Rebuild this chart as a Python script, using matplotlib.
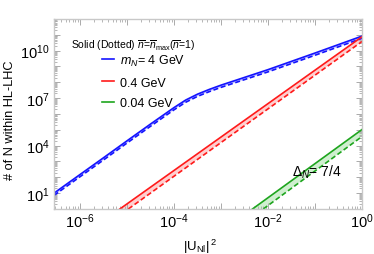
import numpy as np
import matplotlib
matplotlib.use('Agg')
from matplotlib import pyplot as plt
from matplotlib import ticker as mticker

plt.rcParams['font.family'] = ['Liberation Sans', 'DejaVu Sans']
plt.rcParams['mathtext.fontset'] = 'custom'
plt.rcParams['mathtext.rm'] = 'Liberation Sans'
plt.rcParams['mathtext.it'] = 'Liberation Sans:italic'
plt.rcParams['mathtext.bf'] = 'Liberation Sans:bold'

# exponents (log10 of |U|^2 and of the count)
blue_x = [-6.55, -6.0, -5.5, -5.0, -4.5, -4.0, -3.75, -3.5, -3.25, -3.0, -2.5, -2.0, -1.0, 0.0]
blue_solid = [1.00, 2.17, 3.23, 4.30, 5.36, 6.40, 6.88, 7.25, 7.55, 7.82, 8.31, 8.80, 9.85, 10.92]
blue_dash = [0.86, 2.03, 3.09, 4.16, 5.22, 6.26, 6.74, 7.11, 7.41, 7.68, 8.17, 8.66, 9.71, 10.78]

red_x = [-5.15, 0.0]
red_solid = [0.0, 10.88]
red_dash_x = [-4.97, 0.0]
red_dash = [0.0, 10.58]

green_x = [-2.33, 0.0]
green_solid = [0.0, 5.02]
green_dash_x = [-2.10, 0.0]
green_dash = [0.0, 4.58]

x_labeled = [-6, -4, -2, 0]
y_labeled = [1, 4, 7, 10]

labels = [r'$m_N$= 4 GeV', '0.4 GeV', '0.04 GeV']
colors = ['#1414ff', '#ff1a1a', '#1ea51e']
fills = ['#b4b4ff', '#ffc4c4', '#c4ecc4']

p = lambda v: 10.0 ** np.asarray(v)

fig = plt.figure(figsize=(3.74, 2.55), dpi=100)
ax = fig.add_axes([0.1444, 0.1765, 0.8236, 0.7451])

sets = [(blue_x, blue_solid, blue_x, blue_dash),
        (red_x, red_solid, red_dash_x, red_dash),
        (green_x, green_solid, green_dash_x, green_dash)]

for (xs, ys, xd, yd), c, fc, lab in zip(sets, colors, fills, labels):
    poly_x = np.concatenate([p(xs), p(xd)[::-1]])
    poly_y = np.concatenate([p(ys), p(yd)[::-1]])
    ax.fill(poly_x, poly_y, color=fc, lw=0, alpha=0.8)
    ax.plot(p(xs), p(ys), color=c, lw=1.2, label=lab)
    ax.plot(p(xd), p(yd), color=c, lw=1.2, ls=(0, (3, 1.6)))

ax.set_xscale('log')
ax.set_yscale('log')
ax.set_xlim(10 ** -6.55, 1)
ax.set_ylim(1, 1e12)

# major tick every decade, labels only on some of them
def make_fmt(keep):
    def f(v, pos):
        e = int(round(np.log10(v)))
        return r'$10^{%d}$' % e if e in keep else ''
    return f

ax.xaxis.set_major_locator(mticker.FixedLocator(p(np.arange(-6, 1))))
ax.xaxis.set_minor_locator(mticker.LogLocator(base=10, subs=np.arange(2, 10), numticks=20))
ax.yaxis.set_major_locator(mticker.FixedLocator(p(np.arange(0, 13))))
ax.yaxis.set_minor_locator(mticker.LogLocator(base=10, subs=np.arange(2, 10), numticks=20))
ax.xaxis.set_major_formatter(mticker.FuncFormatter(make_fmt(x_labeled)))
ax.yaxis.set_major_formatter(mticker.FuncFormatter(make_fmt(y_labeled)))
ax.xaxis.set_minor_formatter(mticker.NullFormatter())
ax.yaxis.set_minor_formatter(mticker.NullFormatter())

ax.tick_params(which='both', direction='in', top=True, right=True, color='#aaaaaa', labelsize=10.5, labelcolor='black')
ax.tick_params(which='major', length=4, width=0.7)
ax.tick_params(which='minor', length=2, width=0.6)
ax.tick_params(axis='x', pad=2)
ax.tick_params(axis='y', pad=3)
for s in ax.spines.values():
    s.set_color('#c8c8c8')
    s.set_linewidth(1.0)

ax.set_ylabel('# of N within HL-LHC', fontsize=9.2)
ax.yaxis.set_label_coords(-0.125, 0.47)
ax.set_xlabel(r'$\mathrm{|U_{Nl}|}^{\,2}$', fontsize=9.5)
ax.xaxis.set_label_coords(0.475, -0.145)

ax.text(0.055, 0.865, r'Solid (Dotted) $\overline{n}$=$\overline{n}_{\mathrm{max}}$($\overline{n}$=1)',
        transform=ax.transAxes, fontsize=7.5, va='center', ha='left')
ax.legend(loc='upper left', bbox_to_anchor=(0.155, 0.822), frameon=False, fontsize=9,
          handlelength=1.0, handletextpad=0.5, labelspacing=0.7, borderpad=0, borderaxespad=0)

ax.text(10 ** -1.49, 10 ** 2.35, r'$\Delta_N$= 7/4', fontsize=10, va='center', ha='left')

plt.savefig('out.png', dpi=100)
